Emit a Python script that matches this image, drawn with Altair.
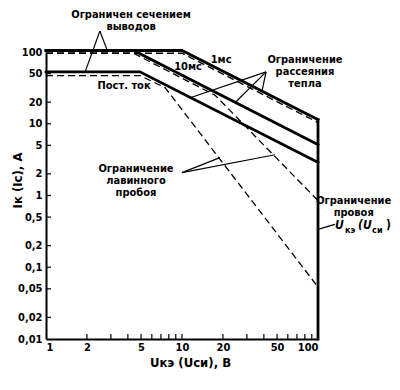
import altair as alt
import pandas as pd

FONT = "DejaVu Sans Condensed, Liberation Sans Narrow, DejaVu Sans, sans-serif"

# ---- curve data ----
ms1_x = [1, 10, 100]
ms1_y = [105, 105, 11.4]
ms10_x = [1, 4.4, 100]
ms10_y = [105, 105, 5.1]
dc_x = [1, 4.9, 100]
dc_y = [53, 53, 2.9]
vce_x = [100, 100]
vce_y = [11.4, 0.01]
d1_x = [1, 10, 100]
d1_y = [96, 96, 10.4]
d2_x = [1, 4.4, 17.5, 100]
d2_y = [96, 96, 25, 0.85]
d3_x = [1, 4.9, 7.5, 100]
d3_y = [47, 47, 32, 0.053]

x_ticks = [2, 3, 4, 5, 6, 7, 8, 9, 10, 20, 30, 40, 50, 60, 70, 80, 90]
x_labels = [1, 2, 5, 10, 20, 50, 100]
y_labels = [100, 50, 20, 10, 5, 2, 1, 0.5, 0.2, 0.1, 0.05, 0.02, 0.01]

# pointer segments: (x, y) -> (x2, y2)
ptr_x = [2.49, 2.49, 41.5, 41.5, 41.5, 10, 10, 100]
ptr_y = [196, 196, 52.8, 52.8, 52.8, 2.08, 2.08, 0.337]
ptr_x2 = [1.94, 2.81, 11.5, 24.5, 38.7, 19, 48.3, 133]
ptr_y2 = [52.8, 107, 23, 19.6, 28.3, 3.37, 3.7, 0.395]

# annotation texts (position = first line)
ann_text = ["Ограничен сечением\nвыводов",
            "Ограничение\nрассеяния\nтепла",
            "Ограничение\nлавинного\nпробоя",
            "Ограничение\nпровоя"]
ann_x = [4.22, 80.2, 4.59, 183]
ann_y = [327, 77.4, 2.37, 0.83]

lab_text = ["1мс", "10мс", "Пост. ток"]
lab_x = [19.4, 11.07, 3.75]
lab_y = [77.4, 61.9, 33.7]

# formula "Uкэ(Uси)" anchor
f_x = [133.6]
f_y = [0.37]

# ---- build tables ----
rows = []
for name, xs, ys, sty in [("1ms", ms1_x, ms1_y, "solid"), ("10ms", ms10_x, ms10_y, "solid"),
                          ("dc", dc_x, dc_y, "solid"), ("vce", vce_x, vce_y, "solid"),
                          ("d1", d1_x, d1_y, "dash"), ("d2", d2_x, d2_y, "dash"),
                          ("d3", d3_x, d3_y, "dash")]:
    for i, (a, b) in enumerate(zip(xs, ys)):
        rows.append({"series": name, "o": i, "x": a, "y": b, "style": sty})
curves = pd.DataFrame(rows)
ptr = pd.DataFrame({"x": ptr_x, "y": ptr_y, "x2": ptr_x2, "y2": ptr_y2})
ann = pd.DataFrame({"x": ann_x, "y": ann_y, "t": ann_text})
lab = pd.DataFrame({"x": lab_x, "y": lab_y, "t": lab_text})
fm = pd.DataFrame({"x": f_x, "y": f_y})
xt = pd.DataFrame({"x": x_ticks})
yt = pd.DataFrame({"y": y_labels[1:-1]})

W, H = 272, 287
xs_ = alt.Scale(type="log", domain=[1, 100], nice=False)
ys_ = alt.Scale(type="log", domain=[0.01, 100], nice=False)
xaxis = alt.Axis(values=x_labels, labelExpr="toString(datum.value)", title="Uкэ (Uси), В",
                 titleX=144, titleY=23, titleBaseline="middle", titleAlign="center",
                 labelPadding=2)
yaxis = alt.Axis(values=y_labels, labelExpr="replace(toString(datum.value), '.', ',')",
                 title="Iк (Iс), А", titleX=-29, titleY=128, titleAngle=270,
                 titleBaseline="middle", titleAlign="center", labelPadding=4)
X = alt.X("x:Q", scale=xs_, axis=xaxis)
Y = alt.Y("y:Q", scale=ys_, axis=yaxis)

solid = alt.Chart(curves).transform_filter("datum.style == 'solid'").mark_line(
    color="black", strokeWidth=2.8, strokeCap="square").encode(x=X, y=Y, detail="series:N", order="o:Q")
dashed = alt.Chart(curves).transform_filter("datum.style == 'dash'").mark_line(
    color="black", strokeWidth=1.3, strokeDash=[7, 4]).encode(x=X, y=Y, detail="series:N", order="o:Q")
pointers = alt.Chart(ptr).mark_rule(color="black", strokeWidth=1.2).encode(
    x=X, y=Y, x2="x2:Q", y2="y2:Q")
anns = alt.Chart(ann).mark_text(font=FONT, fontSize=11, fontWeight="bold", lineBreak="\n",
                                align="center", baseline="middle", lineHeight=12,
                                color="black").encode(x=X, y=Y, text="t:N")
labs = alt.Chart(lab).mark_text(font=FONT, fontSize=11, fontWeight="bold",
                                align="center", baseline="middle", color="black").encode(
    x=X, y=Y, text="t:N")

def piece(txt, dx, dy, size, style="normal"):
    return alt.Chart(fm).mark_text(text=txt, font=FONT, fontSize=size, fontWeight="bold",
                                   fontStyle=style, align="left", baseline="middle",
                                   dx=dx, dy=dy, color="black").encode(x=X, y=Y)

formula = [piece("U", 0, -1, 12, "italic"), piece("кэ", 10, 4, 9),
           piece("(U", 23, -1, 12, "italic"), piece("си", 37, 4, 9), piece(")", 51, -1, 12)]

xtick = alt.Chart(xt).mark_rule(color="black", strokeWidth=1.2).encode(
    x=X, y=alt.value(H), y2=alt.value(H - 5))
ytick = alt.Chart(yt).mark_rule(color="black", strokeWidth=1.2).encode(
    y=Y, x=alt.value(0), x2=alt.value(5))

chart = alt.layer(solid, dashed, pointers, anns, labs, *formula, xtick, ytick).properties(
    width=W, height=H, autosize="none",
    padding={"left": 38, "top": 44, "right": 74, "bottom": 43}
).configure_view(stroke=None).configure_axis(
    grid=False, ticks=False, domainColor="black", domainWidth=2,
    labelFont=FONT, labelFontSize=11, labelFontWeight="bold", labelColor="black",
    titleFont=FONT, titleFontSize=13, titleFontWeight="bold", titleColor="black"
)

chart.save("out.html", embed_options={"renderer": "svg", "actions": False})
